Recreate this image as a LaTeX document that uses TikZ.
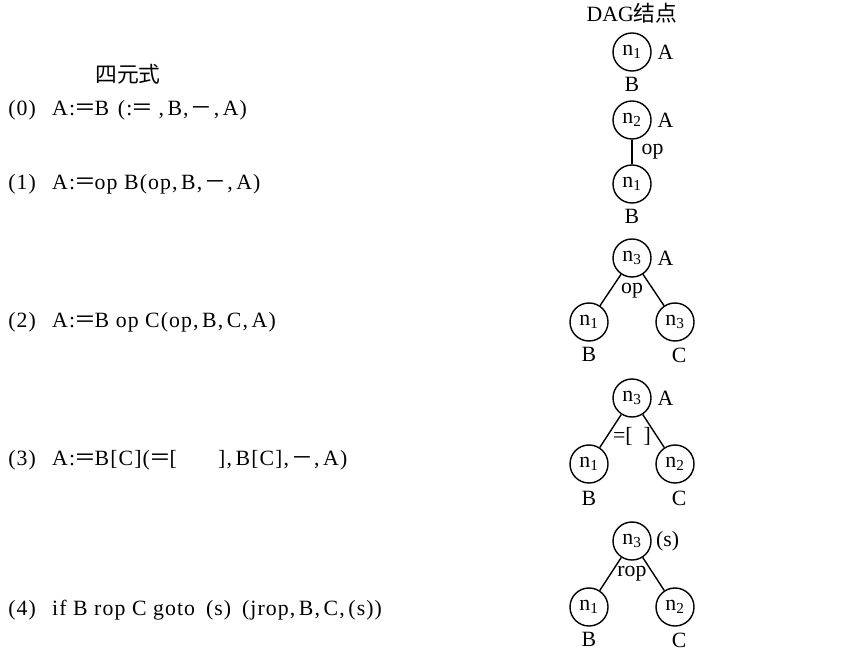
\documentclass[tikz,border=0pt]{standalone}
\usepackage{fontspec}
\setmainfont{Liberation Serif}
\newfontfamily\quadfont[LetterSpace=5]{Liberation Serif}
\newfontfamily\cjk{Noto Sans CJK SC}
\usetikzlibrary{positioning}

\newcommand{\zh}[1]{{\cjk #1}}
\newcommand{\nsub}[1]{n\textsubscript{#1}}
\newcommand{\eqs}{:\kern-0.05em\zh{＝}\kern-0.05em}
\newcommand{\dash}{\kern0.1em\zh{－}\kern0.05em}

\begin{document}
\begin{tikzpicture}[
  x=0.025cm, y=-0.025cm,
  every node/.style={font=\fontsize{15.5}{17}\selectfont},
  quad/.style={anchor=west, inner sep=0pt, font=\fontsize{15.5}{17}\selectfont\quadfont},
  dag/.style={
    draw, circle, line width=1pt,
    minimum size=0.95cm, inner sep=0pt
  },
  var/.style={inner sep=1pt},
  link/.style={line width=1pt},
]
\useasboundingbox (0,0) rectangle (853,655);

% quadruples
\node[inner sep=0pt] (qtitle) at (128,74) {\zh{四元式}};
\node[quad] (q0) at (8,110) {(0)\hspace{.75em}A\eqs B\hspace{.4em}(\eqs\hspace{.3em},\,B,\dash,\,A)};
\node[quad] (q1) at (8,184) {(1)\hspace{.75em}A\eqs op B(op,\,B,\dash,\,A)};
\node[quad] (q2) at (8,322) {(2)\hspace{.75em}A\eqs B op C(op,\,B,\,C,\,A)};
\node[quad] (q3) at (8,460) {(3)\hspace{.75em}A\eqs B[C](\zh{＝}\kern-.1em[\hspace{1.9em}],\,B[C],\dash,\,A)};
\node[quad] (q4) at (8,610) {(4)\hspace{.75em}if B rop C goto\hspace{.5em}(s)\hspace{.5em}(jrop,\,B,\,C,\,(s))};

% DAG nodes
\node[inner sep=0pt] (dtitle) at (632,13) {DAG\zh{结点}};

% (0)
\node[dag] (a1) at (632,52) {\nsub{1}};
\node[var, right=3pt of a1] (a1A) {A};
\node[var, below=3pt of a1] (a1B) {B};

% (1)
\node[dag] (b2) at (632,120) {\nsub{2}};
\node[var, right=3pt of b2] (b2A) {A};
\node[dag] (b1) at (632,184) {\nsub{1}};
\node[var, below=3pt of b1] (b1B) {B};
\draw[link] (b2) -- node[right=3pt] {op} (b1);

% (2)
\node[dag] (c3) at (632,258) {\nsub{3}};
\node[var, right=3pt of c3] (c3A) {A};
\node[var, below=2.5pt of c3] (c3op) {op};
\node[dag] (c1) at (589,322) {\nsub{1}};
\node[dag] (c3r) at (675,322) {\nsub{3}};
\node[var, below=3pt of c1] (c1B) {B};
\node[var, below=3pt of c3r, xshift=3pt] (c3C) {C};
\draw[link] (c3) -- (c1);
\draw[link] (c3) -- (c3r);

% (3)
\node[dag] (d3) at (632,398) {\nsub{3}};
\node[var, right=3pt of d3] (d3A) {A};
\node[var, below=6pt of d3] (d3op) {=[\ \ ]};
\node[dag] (d1) at (589,464) {\nsub{1}};
\node[dag] (d2) at (675,464) {\nsub{2}};
\node[var, below=4pt of d1] (d1B) {B};
\node[var, below=4pt of d2, xshift=3pt] (d2C) {C};
\draw[link] (d3) -- (d1);
\draw[link] (d3) -- (d2);

% (4)
\node[dag] (e3) at (632,541) {\nsub{3}};
\node[var, right=2pt of e3] (e3s) {(s)};
\node[var, below=3pt of e3] (e3op) {rop};
\node[dag] (e1) at (589,607) {\nsub{1}};
\node[dag] (e2) at (675,607) {\nsub{2}};
\node[var, below=3pt of e1] (e1B) {B};
\node[var, below=3pt of e2, xshift=3pt] (e2C) {C};
\draw[link] (e3) -- (e1);
\draw[link] (e3) -- (e2);

\end{tikzpicture}
\end{document}
